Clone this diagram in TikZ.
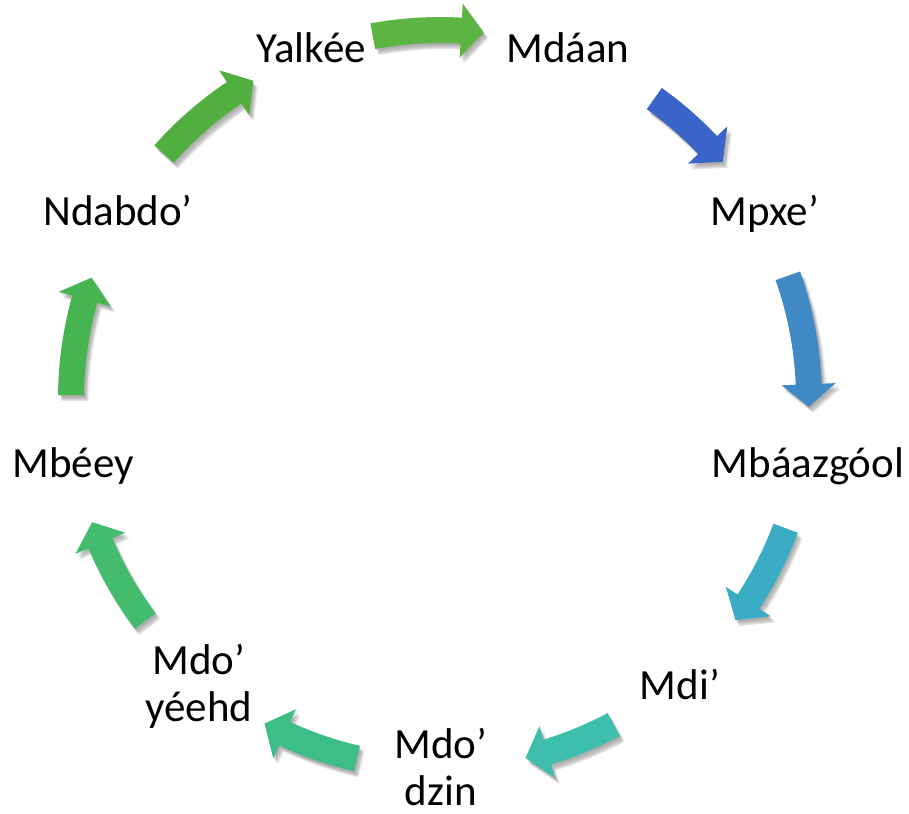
\documentclass[tikz,border=0pt]{standalone}
\usepackage{fontspec}
\setmainfont{Carlito}
\definecolor{cA}{RGB}{92,180,66}
\definecolor{cB}{RGB}{59,100,201}
\definecolor{cC}{RGB}{64,137,197}
\definecolor{cD}{RGB}{58,172,196}
\definecolor{cE}{RGB}{62,190,172}
\definecolor{cF}{RGB}{61,190,134}
\definecolor{cG}{RGB}{67,188,110}
\definecolor{cH}{RGB}{70,180,80}
\definecolor{cI}{RGB}{80,175,62}
\newcommand\arrowpath[3]{(#1:382pt) arc[start angle=#1,end angle=#2,radius=382pt] -- (#2:396pt) -- (#3:369pt) -- (#2:342pt) -- (#2:356pt) arc[start angle=#2,end angle=#1,radius=356pt] -- cycle}
\newcommand\cyarrow[3]{%
  \pgfmathsetmacro\hA{#2+3.5}%
  \foreach \dx/\dy in {1/-2,2/-3,3/-4,4/-5,3/-6,5/-6}{%
    \fill[black,opacity=0.06,shift={(\dx pt,\dy pt)}] \arrowpath{#1}{\hA}{#2};}
  \fill[#3] \arrowpath{#1}{\hA}{#2};%
}
\tikzset{lbl/.style={inner sep=0pt,anchor=base,align=center,font=\fontsize{43}{47}\selectfont}}
\begin{document}
\begin{tikzpicture}[x=1pt,y=1pt]
\useasboundingbox[fill=white] (0,0) rectangle (909,813);
\coordinate (cc) at (440,414);
\begin{scope}[shift={(cc)}]
  \cyarrow{100.5}{83.2}{cA}
  \cyarrow{54.5}{40}{cB}
  \cyarrow{19.5}{-1.2}{cC}
  \cyarrow{-20.5}{-36.8}{cD}
  \cyarrow{-61.9}{-76.6}{cE}
  \cyarrow{-103}{-118.4}{cF}
  \cyarrow{-143}{-160.5}{cG}
  \cyarrow{179.4}{160.8}{cH}
  \cyarrow{138.4}{120.4}{cI}
\end{scope}
\node[lbl] (yal) at (311,750) {Yalkée};
\node[lbl] (mda) at (568,750) {Mdáan};
\node[lbl] (mpx) at (765,587) {Mpxe’};
\node[lbl] (mba) at (808,335) {Mbáazgóol};
\node[lbl] (mdi) at (680,113) {Mdi’};
\node[lbl] (mdz) at (441,8) {Mdo’\\dzin};
\node[lbl] (mye) at (199,91) {Mdo’\\yéehd};
\node[lbl] (mbe) at (73,335) {Mbéey};
\node[lbl] (nda) at (118,587) {Ndabdo’};
\end{tikzpicture}
\end{document}
